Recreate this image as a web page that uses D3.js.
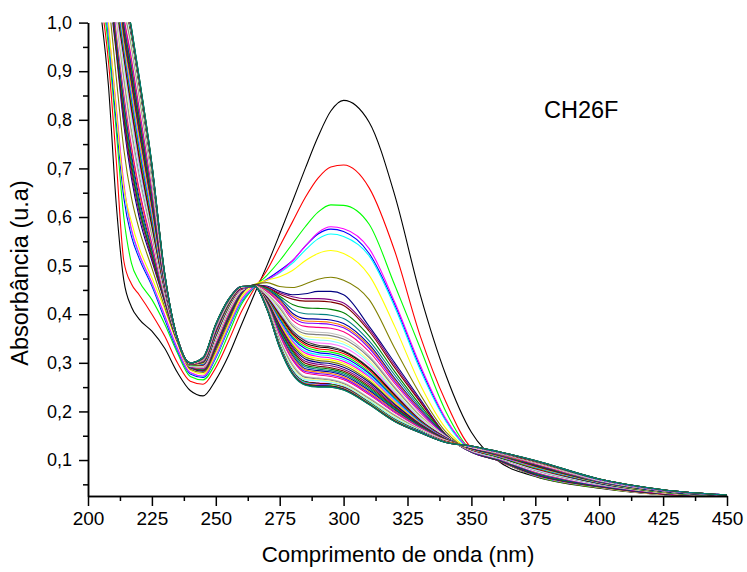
<!DOCTYPE html>
<html><head><meta charset="utf-8">
<script src="https://cdn.jsdelivr.net/npm/d3@7"></script>
<style>body{margin:0;background:#fff}svg{display:block}</style>
</head><body><svg id="c" width="747" height="572"></svg>
<script>
// wavelength grid (nm)
const wavelength = [205,208,211,214,217,220,225,230,235,240,245,250,255,260,265,270,275,280,285,290,295,300,310,320,330,340,350,360,375,400,425,450];
// absorbance of each successive scan
const s01 = [1.02,0.87,0.63,0.47,0.415,0.39,0.365,0.33,0.28,0.243,0.232,0.265,0.315,0.378,0.44,0.50,0.565,0.632,0.70,0.765,0.818,0.84,0.795,0.645,0.44,0.275,0.157,0.10,0.066,0.042,0.029,0.025];
const s02 = [1.05,0.92,0.72,0.51,0.462,0.44,0.40,0.355,0.30,0.262,0.256,0.29,0.345,0.405,0.452,0.49,0.54,0.59,0.64,0.68,0.703,0.707,0.66,0.53,0.355,0.22,0.125,0.10,0.067,0.043,0.029,0.025];
const s03 = [1.08,0.95,0.78,0.60,0.505,0.468,0.43,0.38,0.32,0.272,0.265,0.30,0.36,0.42,0.455,0.48,0.51,0.545,0.58,0.61,0.625,0.624,0.585,0.46,0.33,0.20,0.12,0.10,0.067,0.043,0.029,0.025];
const s04 = [1.10,0.97,0.80,0.64,0.56,0.515,0.458,0.39,0.325,0.277,0.27,0.31,0.37,0.425,0.456,0.472,0.49,0.51,0.54,0.565,0.575,0.57,0.525,0.42,0.29,0.182,0.12,0.10,0.068,0.044,0.029,0.025];
const s05 = [1.12,0.98,0.82,0.66,0.57,0.522,0.462,0.395,0.328,0.279,0.272,0.312,0.372,0.427,0.456,0.47,0.485,0.505,0.532,0.555,0.565,0.56,0.52,0.415,0.285,0.18,0.118,0.10,0.068,0.044,0.029,0.025];
const s06 = [1.12,0.99,0.83,0.67,0.575,0.525,0.465,0.398,0.33,0.28,0.273,0.315,0.375,0.43,0.457,0.47,0.487,0.51,0.54,0.568,0.58,0.576,0.535,0.425,0.295,0.185,0.12,0.10,0.068,0.044,0.029,0.025];
const s07 = [1.15,1.0,0.82,0.66,0.59,0.537,0.475,0.41,0.34,0.285,0.277,0.32,0.38,0.435,0.46,0.47,0.477,0.49,0.51,0.525,0.531,0.525,0.48,0.375,0.255,0.165,0.118,0.10,0.069,0.044,0.029,0.025];
const s08 = [1.18,1.05,0.89,0.74,0.64,0.575,0.495,0.415,0.342,0.287,0.28,0.325,0.385,0.44,0.461,0.465,0.457,0.455,0.462,0.472,0.476,0.47,0.43,0.33,0.235,0.158,0.117,0.10,0.069,0.045,0.03,0.025];
const s09 = [1.20,1.08,0.94,0.79,0.68,0.60,0.51,0.425,0.345,0.29,0.283,0.33,0.39,0.443,0.46,0.458,0.447,0.44,0.442,0.447,0.447,0.44,0.375,0.30,0.225,0.152,0.116,0.10,0.07,0.045,0.03,0.025];
const s10 = [1.21,1.09,0.95,0.80,0.69,0.61,0.515,0.427,0.345,0.29,0.284,0.332,0.392,0.444,0.46,0.456,0.444,0.436,0.432,0.432,0.43,0.423,0.37,0.295,0.222,0.152,0.116,0.1,0.071,0.045,0.03,0.025];
const s11 = [1.22,1.10,0.95,0.81,0.70,0.62,0.52,0.428,0.346,0.291,0.285,0.333,0.393,0.444,0.46,0.455,0.441,0.431,0.427,0.427,0.425,0.418,0.365,0.29,0.219,0.151,0.117,0.101,0.072,0.046,0.03,0.025];
const s12 = [1.23,1.10,0.96,0.82,0.71,0.62,0.525,0.43,0.346,0.291,0.286,0.335,0.395,0.445,0.46,0.453,0.437,0.42,0.413,0.412,0.41,0.403,0.355,0.282,0.213,0.151,0.117,0.101,0.072,0.046,0.031,0.025];
const s13 = [1.24,1.11,0.97,0.83,0.72,0.63,0.53,0.432,0.346,0.291,0.287,0.337,0.397,0.445,0.459,0.452,0.434,0.41,0.401,0.40,0.398,0.391,0.345,0.275,0.208,0.15,0.117,0.102,0.073,0.047,0.031,0.025];
const s14 = [1.25,1.12,0.97,0.84,0.73,0.64,0.535,0.433,0.347,0.292,0.288,0.338,0.398,0.446,0.459,0.45,0.431,0.402,0.391,0.39,0.388,0.381,0.338,0.268,0.204,0.15,0.118,0.102,0.074,0.047,0.031,0.025];
const s15 = [1.26,1.13,0.98,0.85,0.74,0.65,0.54,0.435,0.347,0.292,0.288,0.34,0.40,0.447,0.459,0.449,0.428,0.398,0.386,0.385,0.383,0.376,0.334,0.265,0.202,0.149,0.118,0.103,0.075,0.048,0.032,0.025];
const s16 = [1.27,1.14,0.99,0.86,0.75,0.66,0.545,0.437,0.347,0.292,0.289,0.342,0.402,0.447,0.458,0.447,0.425,0.394,0.382,0.381,0.379,0.372,0.33,0.262,0.2,0.149,0.118,0.103,0.076,0.048,0.032,0.026];
const s17 = [1.28,1.15,1.00,0.87,0.75,0.66,0.55,0.438,0.348,0.293,0.29,0.343,0.403,0.448,0.458,0.446,0.422,0.388,0.375,0.373,0.371,0.364,0.323,0.257,0.196,0.148,0.119,0.104,0.077,0.049,0.032,0.026];
const s18 = [1.29,1.16,1.00,0.87,0.76,0.67,0.555,0.44,0.348,0.293,0.291,0.345,0.405,0.448,0.458,0.444,0.419,0.384,0.37,0.368,0.366,0.359,0.319,0.254,0.194,0.148,0.119,0.104,0.077,0.049,0.033,0.026];
const s19 = [1.30,1.17,1.01,0.88,0.77,0.68,0.56,0.442,0.348,0.293,0.291,0.347,0.407,0.449,0.457,0.443,0.416,0.38,0.365,0.363,0.361,0.354,0.315,0.251,0.192,0.148,0.119,0.105,0.078,0.05,0.033,0.026];
const s20 = [1.31,1.17,1.02,0.89,0.78,0.69,0.565,0.443,0.349,0.294,0.292,0.348,0.408,0.45,0.457,0.441,0.412,0.376,0.36,0.358,0.356,0.349,0.311,0.248,0.19,0.147,0.12,0.105,0.079,0.05,0.033,0.026];
const s21 = [1.32,1.18,1.02,0.90,0.79,0.70,0.57,0.445,0.349,0.294,0.293,0.35,0.41,0.45,0.457,0.44,0.409,0.372,0.355,0.352,0.35,0.343,0.305,0.244,0.188,0.147,0.12,0.106,0.08,0.051,0.033,0.026];
const s22 = [1.33,1.19,1.03,0.91,0.80,0.70,0.575,0.447,0.349,0.294,0.294,0.352,0.412,0.451,0.456,0.438,0.406,0.368,0.35,0.347,0.345,0.338,0.301,0.241,0.186,0.147,0.12,0.106,0.08,0.051,0.034,0.026];
const s23 = [1.34,1.19,1.03,0.92,0.81,0.71,0.578,0.448,0.35,0.295,0.294,0.353,0.413,0.451,0.456,0.437,0.403,0.367,0.347,0.341,0.339,0.332,0.296,0.238,0.184,0.146,0.121,0.107,0.081,0.052,0.034,0.026];
const s24 = [1.35,1.20,1.04,0.93,0.82,0.72,0.58,0.45,0.35,0.295,0.295,0.355,0.415,0.452,0.456,0.435,0.40,0.365,0.345,0.336,0.333,0.325,0.29,0.235,0.182,0.146,0.121,0.107,0.082,0.052,0.034,0.026];
const s25 = [1.36,1.21,1.05,0.935,0.827,0.727,0.585,0.451,0.35,0.295,0.296,0.356,0.416,0.452,0.456,0.434,0.397,0.361,0.341,0.333,0.330,0.323,0.288,0.233,0.181,0.146,0.121,0.107,0.083,0.052,0.034,0.026];
const s26 = [1.37,1.22,1.06,0.94,0.833,0.733,0.59,0.452,0.35,0.295,0.296,0.357,0.416,0.452,0.456,0.433,0.395,0.358,0.337,0.329,0.326,0.319,0.285,0.231,0.18,0.146,0.121,0.108,0.083,0.053,0.034,0.026];
const s27 = [1.38,1.23,1.06,0.945,0.84,0.74,0.595,0.454,0.35,0.295,0.297,0.358,0.417,0.453,0.456,0.432,0.392,0.354,0.333,0.325,0.322,0.315,0.281,0.228,0.179,0.145,0.122,0.108,0.084,0.053,0.034,0.026];
const s28 = [1.39,1.24,1.07,0.95,0.847,0.747,0.60,0.455,0.35,0.296,0.297,0.359,0.418,0.453,0.456,0.431,0.389,0.351,0.329,0.321,0.318,0.311,0.278,0.226,0.178,0.145,0.122,0.109,0.085,0.053,0.035,0.026];
const s29 = [1.40,1.24,1.08,0.955,0.853,0.753,0.605,0.456,0.35,0.296,0.298,0.36,0.418,0.453,0.456,0.43,0.386,0.347,0.324,0.317,0.314,0.307,0.274,0.224,0.177,0.144,0.122,0.109,0.085,0.054,0.035,0.026];
const s30 = [1.41,1.25,1.09,0.96,0.86,0.76,0.61,0.457,0.35,0.296,0.299,0.361,0.419,0.453,0.457,0.43,0.384,0.344,0.320,0.313,0.310,0.303,0.271,0.221,0.176,0.144,0.123,0.109,0.086,0.054,0.035,0.027];
const s31 = [1.42,1.26,1.10,0.965,0.867,0.767,0.615,0.459,0.35,0.296,0.299,0.362,0.419,0.454,0.457,0.429,0.381,0.34,0.316,0.309,0.306,0.299,0.267,0.219,0.175,0.143,0.123,0.11,0.087,0.054,0.035,0.027];
const s32 = [1.43,1.27,1.11,0.97,0.873,0.773,0.62,0.46,0.35,0.297,0.3,0.363,0.42,0.454,0.457,0.428,0.378,0.337,0.312,0.305,0.302,0.295,0.263,0.216,0.174,0.143,0.123,0.11,0.087,0.055,0.035,0.027];
const s33 = [1.44,1.28,1.12,0.98,0.88,0.78,0.625,0.461,0.35,0.297,0.301,0.364,0.421,0.454,0.457,0.427,0.376,0.333,0.308,0.301,0.298,0.291,0.26,0.214,0.173,0.143,0.124,0.111,0.088,0.055,0.036,0.027];
const s34 = [1.45,1.29,1.12,0.985,0.887,0.787,0.63,0.462,0.35,0.297,0.301,0.365,0.421,0.454,0.457,0.426,0.373,0.33,0.303,0.297,0.294,0.287,0.256,0.211,0.172,0.142,0.124,0.111,0.089,0.055,0.036,0.027];
const s35 = [1.46,1.30,1.13,0.99,0.893,0.793,0.635,0.464,0.35,0.297,0.302,0.366,0.422,0.454,0.457,0.425,0.37,0.326,0.299,0.293,0.290,0.283,0.252,0.209,0.171,0.142,0.124,0.112,0.089,0.056,0.036,0.027];
const s36 = [1.47,1.31,1.14,0.995,0.90,0.80,0.64,0.465,0.35,0.297,0.302,0.367,0.422,0.455,0.457,0.424,0.368,0.323,0.295,0.29,0.287,0.28,0.249,0.207,0.17,0.142,0.125,0.112,0.09,0.056,0.036,0.027];
const s37 = [1.48,1.31,1.15,1.0,0.907,0.807,0.645,0.466,0.35,0.298,0.303,0.368,0.423,0.455,0.457,0.423,0.365,0.319,0.292,0.287,0.284,0.277,0.246,0.205,0.169,0.141,0.125,0.112,0.091,0.056,0.036,0.027];
const s38 = [1.49,1.32,1.16,1.005,0.913,0.813,0.65,0.467,0.35,0.298,0.304,0.368,0.424,0.455,0.457,0.422,0.362,0.315,0.288,0.284,0.281,0.274,0.243,0.203,0.168,0.141,0.125,0.113,0.091,0.057,0.036,0.027];
const s39 = [1.50,1.33,1.17,1.01,0.92,0.82,0.655,0.469,0.35,0.298,0.304,0.369,0.424,0.455,0.457,0.421,0.359,0.312,0.285,0.281,0.278,0.271,0.24,0.201,0.167,0.141,0.126,0.113,0.092,0.057,0.037,0.027];
const s40 = [1.51,1.34,1.18,1.015,0.927,0.827,0.66,0.47,0.35,0.298,0.305,0.37,0.425,0.455,0.457,0.42,0.357,0.308,0.282,0.278,0.275,0.268,0.237,0.199,0.166,0.14,0.126,0.114,0.093,0.057,0.037,0.027];
const s41 = [1.52,1.35,1.18,1.02,0.933,0.833,0.665,0.471,0.35,0.298,0.306,0.371,0.426,0.456,0.458,0.42,0.354,0.305,0.279,0.275,0.272,0.265,0.234,0.197,0.165,0.14,0.126,0.114,0.093,0.058,0.037,0.028];
const s42 = [1.53,1.36,1.19,1.03,0.94,0.84,0.67,0.472,0.35,0.299,0.306,0.372,0.426,0.456,0.458,0.419,0.351,0.301,0.276,0.272,0.269,0.262,0.231,0.195,0.164,0.14,0.126,0.115,0.094,0.058,0.037,0.028];
const s43 = [1.54,1.37,1.20,1.035,0.947,0.847,0.675,0.474,0.35,0.299,0.307,0.373,0.427,0.456,0.458,0.418,0.349,0.298,0.272,0.269,0.266,0.259,0.228,0.193,0.163,0.139,0.127,0.115,0.095,0.058,0.037,0.028];
const s44 = [1.55,1.38,1.21,1.04,0.953,0.853,0.68,0.475,0.35,0.299,0.307,0.374,0.427,0.456,0.458,0.417,0.346,0.294,0.27,0.267,0.264,0.257,0.226,0.191,0.162,0.139,0.127,0.115,0.095,0.059,0.037,0.028];
const s45 = [1.56,1.39,1.22,1.05,0.96,0.86,0.685,0.476,0.35,0.299,0.308,0.375,0.428,0.456,0.458,0.416,0.343,0.291,0.267,0.265,0.262,0.255,0.224,0.189,0.161,0.138,0.127,0.116,0.096,0.059,0.038,0.028];
const s46 = [1.57,1.40,1.23,1.055,0.967,0.867,0.69,0.477,0.35,0.3,0.309,0.376,0.429,0.457,0.458,0.415,0.341,0.287,0.265,0.263,0.260,0.253,0.222,0.187,0.16,0.138,0.128,0.116,0.097,0.059,0.038,0.028];
const s47 = [1.58,1.41,1.23,1.06,0.973,0.873,0.695,0.479,0.35,0.3,0.309,0.377,0.429,0.457,0.458,0.414,0.338,0.284,0.262,0.259,0.257,0.25,0.219,0.184,0.159,0.138,0.128,0.117,0.097,0.06,0.038,0.028];
const s48 = [1.58,1.41,1.23,1.061,0.974,0.874,0.696,0.479,0.35,0.3,0.309,0.377,0.429,0.457,0.458,0.414,0.337,0.283,0.261,0.258,0.256,0.25,0.219,0.184,0.159,0.138,0.128,0.117,0.097,0.06,0.038,0.028];
const s49 = [1.59,1.42,1.24,1.063,0.975,0.875,0.697,0.48,0.35,0.3,0.309,0.377,0.429,0.457,0.458,0.413,0.337,0.283,0.261,0.258,0.256,0.249,0.218,0.183,0.159,0.138,0.128,0.117,0.097,0.06,0.038,0.028];
const s50 = [1.59,1.42,1.24,1.064,0.977,0.877,0.698,0.48,0.35,0.3,0.309,0.378,0.43,0.457,0.458,0.413,0.336,0.282,0.26,0.257,0.255,0.249,0.218,0.183,0.158,0.138,0.128,0.117,0.097,0.06,0.038,0.028];
const s51 = [1.59,1.42,1.24,1.066,0.978,0.878,0.699,0.481,0.35,0.3,0.31,0.378,0.43,0.457,0.458,0.413,0.336,0.282,0.26,0.256,0.255,0.248,0.218,0.183,0.158,0.137,0.128,0.117,0.098,0.06,0.038,0.028];
const s52 = [1.59,1.42,1.24,1.067,0.979,0.879,0.70,0.481,0.35,0.3,0.31,0.378,0.43,0.457,0.458,0.412,0.335,0.281,0.259,0.256,0.254,0.248,0.217,0.182,0.158,0.137,0.128,0.117,0.098,0.06,0.038,0.028];
const s53 = [1.60,1.42,1.24,1.069,0.98,0.88,0.701,0.482,0.35,0.3,0.31,0.378,0.43,0.457,0.458,0.412,0.335,0.281,0.259,0.255,0.254,0.247,0.217,0.182,0.158,0.137,0.128,0.117,0.098,0.06,0.038,0.028];
const s54 = [1.60,1.43,1.25,1.07,0.981,0.881,0.702,0.482,0.35,0.3,0.31,0.378,0.43,0.457,0.458,0.412,0.334,0.28,0.258,0.255,0.253,0.247,0.216,0.181,0.157,0.137,0.128,0.117,0.098,0.06,0.038,0.028];
const s55 = [1.60,1.43,1.25,1.071,0.982,0.882,0.703,0.482,0.35,0.3,0.31,0.379,0.43,0.457,0.458,0.412,0.333,0.279,0.257,0.254,0.253,0.247,0.216,0.181,0.157,0.137,0.129,0.118,0.098,0.061,0.039,0.028];
const s56 = [1.61,1.43,1.25,1.073,0.984,0.884,0.705,0.483,0.35,0.3,0.31,0.379,0.43,0.457,0.458,0.411,0.333,0.279,0.257,0.253,0.252,0.246,0.216,0.181,0.157,0.137,0.129,0.118,0.098,0.061,0.039,0.028];
const s57 = [1.61,1.43,1.25,1.074,0.985,0.885,0.706,0.483,0.35,0.3,0.31,0.379,0.43,0.457,0.458,0.411,0.332,0.278,0.256,0.253,0.252,0.246,0.215,0.18,0.157,0.136,0.129,0.118,0.098,0.061,0.039,0.028];
const s58 = [1.61,1.43,1.25,1.076,0.986,0.886,0.707,0.484,0.35,0.3,0.311,0.379,0.431,0.457,0.458,0.411,0.332,0.278,0.256,0.252,0.251,0.245,0.215,0.18,0.156,0.136,0.129,0.118,0.099,0.061,0.039,0.028];
const s59 = [1.61,1.44,1.26,1.077,0.987,0.887,0.708,0.484,0.35,0.3,0.311,0.38,0.431,0.457,0.458,0.41,0.331,0.277,0.255,0.251,0.251,0.245,0.215,0.18,0.156,0.136,0.129,0.118,0.099,0.061,0.039,0.028];
const s60 = [1.62,1.44,1.26,1.079,0.989,0.889,0.709,0.485,0.35,0.3,0.311,0.38,0.431,0.457,0.458,0.41,0.331,0.277,0.255,0.251,0.25,0.244,0.214,0.179,0.156,0.136,0.129,0.118,0.099,0.061,0.039,0.028];
const s61 = [1.62,1.44,1.26,1.08,0.99,0.89,0.71,0.485,0.35,0.30,0.311,0.38,0.431,0.457,0.458,0.41,0.33,0.276,0.254,0.25,0.25,0.244,0.214,0.179,0.156,0.136,0.129,0.118,0.099,0.061,0.039,0.028];

// Origin default colour cycle
const originColors = ["#000000","#FF0000","#00FF00","#0000FF","#00FFFF","#FF00FF","#FFFF00","#808000","#000080","#800080","#800000","#008000","#008080","#0000A0","#FF8000","#8000FF","#FF0080","#FFFFFF","#C0C0C0","#808080","#FFFF80","#80FFFF","#FF80FF","#404040"];
const xMajor = [200,225,250,275,300,325,350,375,400,425,450];
const xMinor = [212.5,237.5,262.5,287.5,312.5,337.5,362.5,387.5,412.5,437.5];
const yMajor = [0.1,0.2,0.3,0.4,0.5,0.6,0.7,0.8,0.9,1.0];
const yMinor = [0.05,0.15,0.25,0.35,0.45,0.55,0.65,0.75,0.85,0.95];
const sampleLabel = "CH26F";
const xTitle = "Comprimento de onda (nm)";
const yTitle = "Absorbância (u.a)";

const spectra = [s01,s02,s03,s04,s05,s06,s07,s08,s09,s10,s11,s12,s13,s14,s15,s16,s17,s18,s19,s20,
  s21,s22,s23,s24,s25,s26,s27,s28,s29,s30,s31,s32,s33,s34,s35,s36,s37,s38,s39,s40,
  s41,s42,s43,s44,s45,s46,s47,s48,s49,s50,s51,s52,s53,s54,s55,s56,s57,s58,s59,s60,s61];

const FONT = "'Liberation Sans', Arial, Helvetica, sans-serif";
const svg = d3.select("#c");
const L = 88, R = 727, T = 22.6, B = 496;
const x = d3.scaleLinear().domain([200, 450]).range([L, R]);
const y = d3.scaleLinear().domain([0.026, 1.0]).range([B, T]);

svg.append("defs").append("clipPath").attr("id", "plotclip")
  .append("rect").attr("x", L).attr("y", T).attr("width", R - L).attr("height", B - T);

const line = d3.line()
  .x((d, i) => x(wavelength[i]))
  .y(d => y(d))
  .curve(d3.curveMonotoneX);

svg.append("g").attr("clip-path", "url(#plotclip)")
  .selectAll("path").data(spectra).join("path")
  .attr("d", line)
  .attr("fill", "none")
  .attr("stroke", (d, i) => originColors[i % originColors.length])
  .attr("stroke-width", 1.1);

const fmt = d => d3.format(".1f")(d).replace(".", ",");

function styleAxis(g) {
  g.selectAll("path,line").attr("stroke", "#000").attr("stroke-width", 1.5);
  g.selectAll("text").attr("font-family", FONT).attr("font-size", 18).attr("fill", "#000");
  g.attr("font-family", null).attr("font-size", null);
}

svg.append("g").attr("transform", `translate(${L},0)`)
  .call(d3.axisLeft(y).tickValues(yMinor).tickSize(5).tickSizeOuter(0).tickFormat(""))
  .call(styleAxis);
svg.append("g").attr("transform", `translate(${L},0)`)
  .call(d3.axisLeft(y).tickValues(yMajor).tickSize(9).tickSizeOuter(0).tickPadding(7).tickFormat(fmt))
  .call(styleAxis);

svg.append("g").attr("transform", `translate(0,${B})`)
  .call(d3.axisBottom(x).tickValues(xMinor).tickSize(5).tickSizeOuter(0).tickFormat(""))
  .call(styleAxis);
svg.append("g").attr("transform", `translate(0,${B})`)
  .call(d3.axisBottom(x).tickValues(xMajor).tickSize(10).tickSizeOuter(0).tickPadding(6).tickFormat(d3.format("d")))
  .call(styleAxis)
  .selectAll("text").attr("font-size", 19);

svg.append("text").attr("x", 398).attr("y", 562).attr("text-anchor", "middle")
  .attr("font-family", FONT).attr("font-size", 22.3).text(xTitle);
svg.append("text").attr("transform", "translate(28,273) rotate(-90)").attr("text-anchor", "middle")
  .attr("font-family", FONT).attr("font-size", 23.5).text(yTitle);
svg.append("text").attr("x", 544).attr("y", 118)
  .attr("font-family", FONT).attr("font-size", 23.5).text(sampleLabel);
</script>
</body></html>
